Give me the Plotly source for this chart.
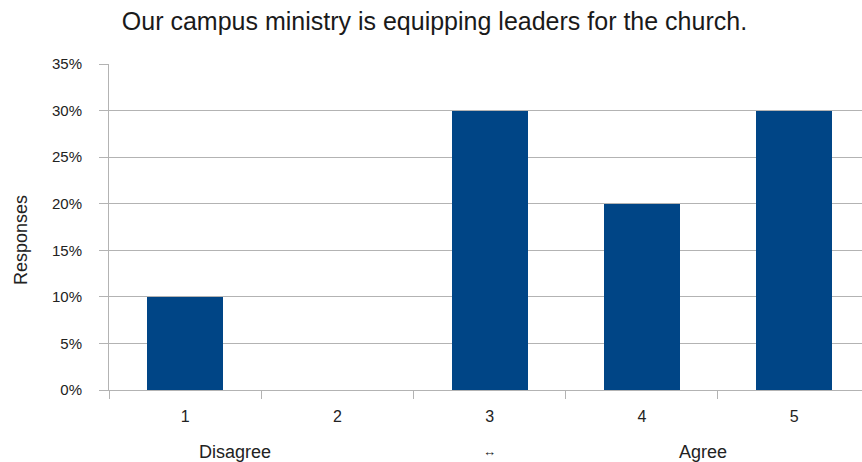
import plotly.graph_objects as go

categories = [1, 2, 3, 4, 5]
category_labels = ["1", "2", "3", "4", "5"]
responses_pct = [10, 0, 30, 20, 30]
y_ticks = [0, 5, 10, 15, 20, 25, 30, 35]
y_tick_labels = [f"{v}%" for v in y_ticks]
scale_labels = ["Disagree", "↔", "Agree"]
scale_positions = [1.33, 3.0, 4.4]

title = "Our campus ministry is equipping leaders for the church."
font_family = "Liberation Sans, Arial, sans-serif"
grid_color = "#b3b3b3"
bar_color = "#004586"

fig = go.Figure()
fig.add_trace(go.Bar(
    x=categories, y=responses_pct, width=0.5,
    marker=dict(color=bar_color, line=dict(width=0)),
    hoverinfo="x+y",
))
# invisible trace to activate the secondary x axis (boundary ticks)
fig.add_trace(go.Scatter(x=[categories[0]], y=[0], xaxis="x2", mode="markers",
                         marker=dict(opacity=0), showlegend=False, hoverinfo="skip"))

x_range = [0.5, 5.446]
boundaries = [c - 0.5 for c in categories]

fig.update_layout(
    width=862, height=462,
    margin=dict(l=109, r=0, t=64, b=72),
    paper_bgcolor="white", plot_bgcolor="white",
    showlegend=False,
    font=dict(family=font_family, size=14, color="#222"),
    title=dict(text=title, x=0.504, xanchor="center", y=0.955, yanchor="middle",
               font=dict(size=25, color="#1a1a1a")),
    xaxis=dict(
        range=x_range, tickvals=categories, ticktext=category_labels,
        ticks="", ticklabelstandoff=12, showgrid=False, zeroline=False,
        showline=True, linecolor=grid_color, linewidth=1,
        tickfont=dict(size=16, color="#222"),
    ),
    xaxis2=dict(
        range=x_range, overlaying="x", side="bottom", anchor="y",
        tickvals=boundaries, showticklabels=False, ticks="outside",
        ticklen=8, tickcolor=grid_color, tickwidth=1,
        showgrid=False, zeroline=False, showline=False,
    ),
    yaxis=dict(
        range=[0, 35], tickvals=y_ticks, ticktext=y_tick_labels,
        ticks="outside", ticklen=9, tickcolor=grid_color, tickwidth=1,
        ticklabelstandoff=14,
        showgrid=True, gridcolor=grid_color, gridwidth=1,
        zeroline=False, showline=True, linecolor=grid_color, linewidth=1,
        tickfont=dict(size=15, color="#222"),
    ),
    bargap=0,
)

fig.add_annotation(text="Responses", xref="paper", yref="paper", x=-0.117, y=0.46,
                   xanchor="center", yanchor="middle", textangle=-90, showarrow=False,
                   font=dict(size=18, color="#222"))

for lab, pos in zip(scale_labels, scale_positions):
    fig.add_annotation(text=lab, xref="x", yref="paper", x=pos, y=-0.19,
                       xanchor="center", yanchor="middle", showarrow=False,
                       font=dict(size=18 if lab != "↔" else 13, color="#222"))

fig.write_html("out.html")
